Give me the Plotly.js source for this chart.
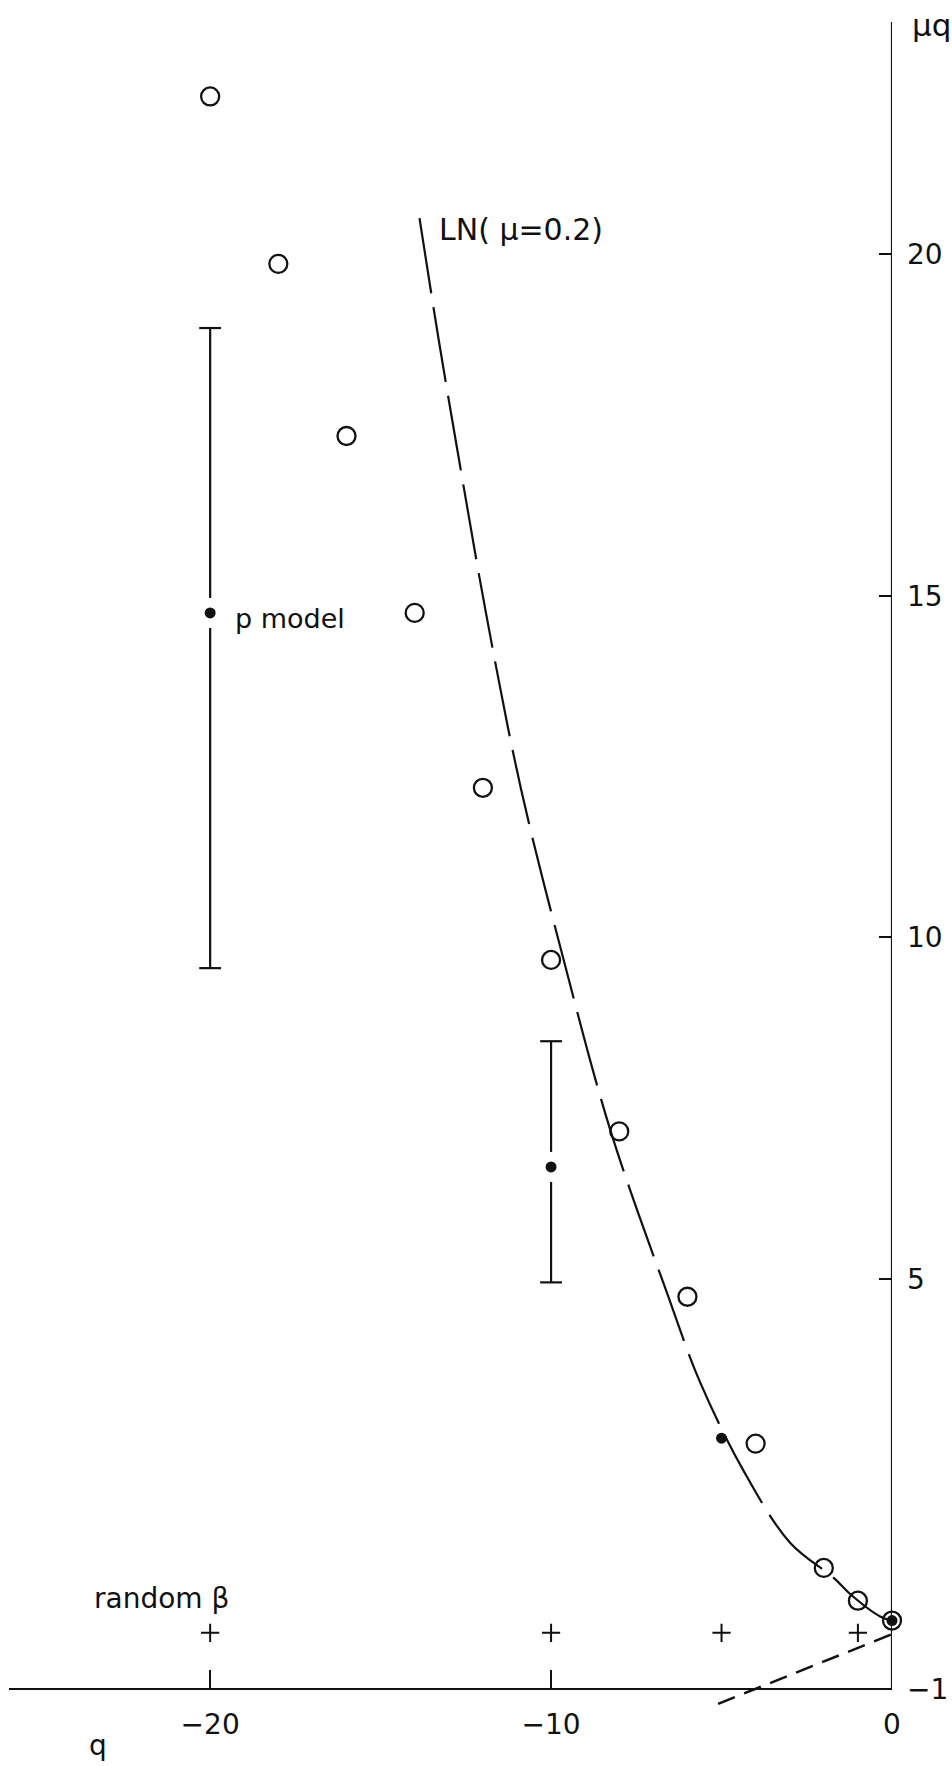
<!DOCTYPE html>
<html>
<head>
<meta charset="utf-8">
<script src="https://cdn.plot.ly/plotly-3.0.1.min.js"></script>
<style>
  html, body { margin: 0; padding: 0; background: #fff; }
  #chart { width: 952px; height: 1766px; }
</style>
</head>
<body>
<div id="chart"></div>
<script>
// open circles
var qOpen = [-20, -18, -16, -14, -12, -10, -8, -6, -4, -2, -1, 0];
var muOpen = [22.31, 19.86, 17.34, 14.75, 12.19, 9.67, 7.16, 4.74, 2.59, 0.77, 0.29, 0];

// p model (filled dots), error bars where drawn
var qModel = [-20, -10, -5, 0];
var muModel = [14.75, 6.64, 2.67, 0];
var errUp = [4.17, 1.84, null, null];
var errDown = [5.2, 1.69, null, null];

// random beta (crosses)
var qRandom = [-20, -10, -5, -1];
var muRandom = [-0.18, -0.18, -0.18, -0.18];

// LN(mu=0.2) curve
var qLN = [-13.86, -13.30, -12.74, -11.91, -10.89, -9.63, -8.25, -6.56, -5.64, -4.34, -2.99, -1.70, -1.22, -0.35, 0];
var muLN = [20.53, 18.76, 17.11, 14.75, 12.19, 9.67, 7.16, 4.74, 3.50, 2.18, 1.14, 0.62, 0.385, 0.06, 0];

// short dashed line at the origin
var qLine = [-5.1, 0];
var muLine = [-1.22, -0.2];

var ink = "#111111";
var fontFam = "DejaVu Sans, sans-serif";
var yLow = -1.5, yHigh = 23.4;

// error bars drawn as line segments so they break around the dot
var gapMu = 0.22;   // break above/below the dot
var capQ = 0.32;    // half width of the caps
var barX = [], barY = [], capX = [], capY = [];
for (var i = 0; i < qModel.length; i++) {
    if (errUp[i] == null) continue;
    var q = qModel[i], m = muModel[i];
    barX.push(q, q, null, q, q, null);
    barY.push(m + gapMu, m + errUp[i], null, m - gapMu, m - errDown[i], null);
    capX.push(q - capQ, q + capQ, null, q - capQ, q + capQ, null);
    capY.push(m + errUp[i], m + errUp[i], null, m - errDown[i], m - errDown[i], null);
}

var data = [
    {
        x: qLine, y: muLine,
        mode: "lines", type: "scatter",
        line: {color: ink, width: 2.5, dash: "18px,10px"}
    },
    {
        x: qLN, y: muLN,
        mode: "lines", type: "scatter",
        line: {color: ink, width: 2.2, dash: "76px,14px", shape: "spline", smoothing: 1}
    },
    {
        x: barX, y: barY,
        mode: "lines", type: "scatter",
        line: {color: ink, width: 2.2}
    },
    {
        x: capX, y: capY,
        mode: "lines", type: "scatter",
        line: {color: ink, width: 2.2}
    },
    {
        x: qOpen, y: muOpen,
        mode: "markers", type: "scatter", cliponaxis: false,
        marker: {symbol: "circle-open", size: 18, color: ink, line: {width: 2.3, color: ink}}
    },
    {
        x: qRandom, y: muRandom,
        mode: "markers", type: "scatter", cliponaxis: false,
        marker: {symbol: "cross-thin", size: 13, color: ink, line: {width: 2, color: ink}}
    },
    {
        x: qModel, y: muModel,
        mode: "markers", type: "scatter", cliponaxis: false,
        marker: {symbol: "circle", size: 11, color: ink}
    }
];

var layout = {
    width: 952,
    height: 1766,
    margin: {l: 9, r: 60, t: 22, b: 43},
    paper_bgcolor: "#ffffff",
    plot_bgcolor: "#ffffff",
    showlegend: false,
    font: {family: fontFam, size: 28, color: ink},
    xaxis: {
        range: [-25.9, 0],
        anchor: "free",
        position: (-1 - yLow) / (yHigh - yLow),
        side: "bottom",
        showline: true, linecolor: ink, linewidth: 2.2,
        showgrid: false, zeroline: false,
        ticks: "inside", ticklen: 18, tickwidth: 2, tickcolor: ink,
        tickvals: [-20, -10, 0],
        ticklabelstandoff: 10,
        tickfont: {family: fontFam, size: 28, color: ink}
    },
    yaxis: {
        range: [yLow, yHigh],
        side: "right",
        showline: false,
        showgrid: false, zeroline: false,
        ticks: "inside", ticklen: 13, tickwidth: 2, tickcolor: ink,
        tickvals: [-1, 5, 10, 15, 20],
        ticklabelstandoff: 14,
        tickfont: {family: fontFam, size: 28, color: ink}
    },
    shapes: [
        {type: "line", xref: "x", yref: "y", x0: 0, x1: 0, y0: -1, y1: yHigh,
         line: {color: ink, width: 2.2}}
    ],
    annotations: [
        {text: "LN( μ=0.2)", x: -13.34, y: 20.36, xref: "x", yref: "y",
         xanchor: "left", yanchor: "middle", showarrow: false,
         font: {family: fontFam, size: 30, color: ink}},
        {text: "p model", x: -19.32, y: 14.67, xref: "x", yref: "y",
         xanchor: "left", yanchor: "middle", showarrow: false,
         font: {family: fontFam, size: 27, color: ink}},
        {text: "random β", x: -23.46, y: 0.32, xref: "x", yref: "y",
         xanchor: "left", yanchor: "middle", showarrow: false,
         font: {family: fontFam, size: 28, color: ink}},
        {text: "q", x: 0.1008, y: -0.013, xref: "paper", yref: "paper",
         xanchor: "center", yanchor: "middle", showarrow: false,
         font: {family: fontFam, size: 28, color: ink}},
        {text: "μq", x: 1.045, y: 0.998, xref: "paper", yref: "paper",
         xanchor: "center", yanchor: "middle", showarrow: false,
         font: {family: fontFam, size: 31, color: ink}}
    ]
};

Plotly.newPlot("chart", data, layout, {staticPlot: true});
</script>
</body>
</html>
